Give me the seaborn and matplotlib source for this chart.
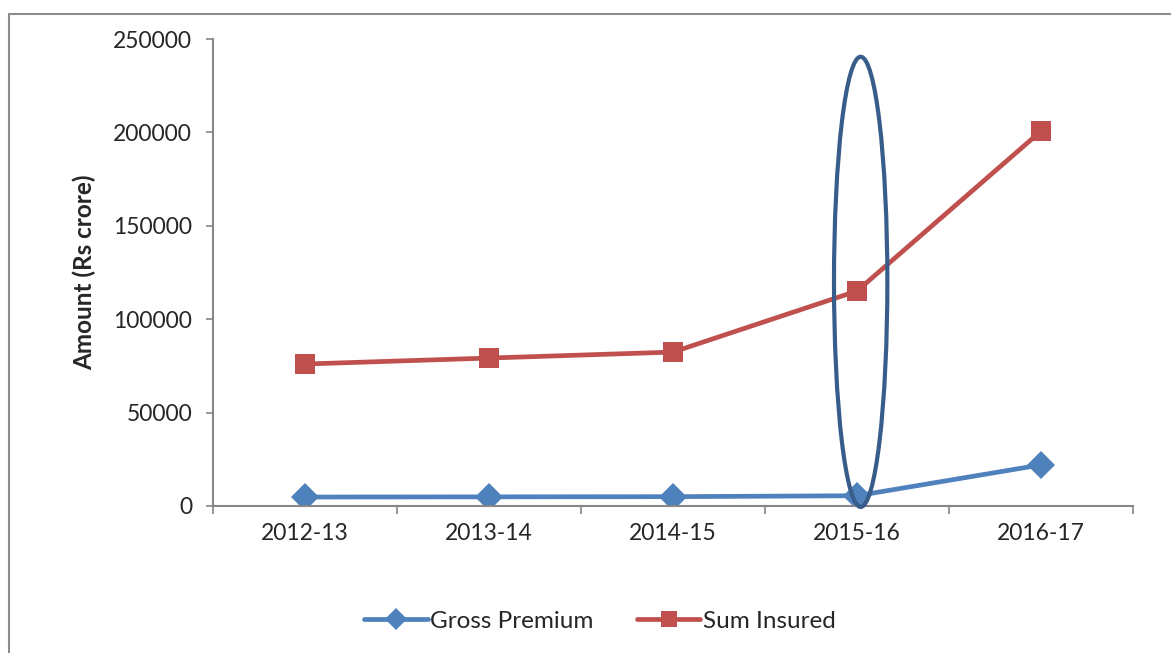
import numpy as np
import pandas as pd
import seaborn as sns
import matplotlib.pyplot as plt
from matplotlib.patches import Ellipse
from matplotlib.lines import Line2D

years = ['2012-13', '2013-14', '2014-15', '2015-16', '2016-17']
gross_premium = [4800, 4900, 5000, 5500, 22000]
sum_insured = [76000, 79200, 82400, 115100, 200700]

df = pd.DataFrame({'Year': years * 2,
                   'Amount': gross_premium + sum_insured,
                   'Series': ['Gross Premium'] * 5 + ['Sum Insured'] * 5})

sns.set_style('white')
plt.rcParams['font.family'] = ['Lato', 'DejaVu Sans']

fig = plt.figure(figsize=(11.71, 6.53), dpi=100)
ax = fig.add_axes([213 / 1171, 1 - 506 / 653, 920 / 1171, 467 / 653])

sns.lineplot(data=df, x='Year', y='Amount', hue='Series', style='Series',
             palette=['#4F81BD', '#C0504D'], markers=['D', 's'], dashes=False,
             linewidth=3.4, markersize=14, markeredgewidth=0, sort=False, ax=ax)

ax.set_xlim(-0.5, 4.5)
ax.set_ylim(0, 250000)
ax.set_yticks(np.arange(0, 250001, 50000))
ax.tick_params(axis='y', labelsize=16.5, length=5, width=1.2, color='#868686', pad=10, left=True)
ax.tick_params(axis='x', which='major', labelsize=16.5, length=0, pad=12)
ax.set_xticks(np.arange(-0.5, 4.6, 1), minor=True)
ax.tick_params(axis='x', which='minor', length=6, width=1.2, color='#868686', bottom=True)
for s in ['top', 'right']:
    ax.spines[s].set_visible(False)
for s in ['left', 'bottom']:
    ax.spines[s].set_color('#868686')
    ax.spines[s].set_linewidth(1.5)
ax.set_xlabel('')
ax.set_ylabel('Amount (Rs crore)', fontsize=17.5, fontweight='bold', labelpad=12)

# highlight ellipse around 2015-16
ell = Ellipse((3.02, 120000), 0.29, 241000, fill=False, edgecolor='#385D8A',
              linewidth=3, clip_on=False, zorder=5)
ax.add_patch(ell)

handles, labels = ax.get_legend_handles_labels()
ax.get_legend().remove()
for h in handles:
    h.set_markersize(11)
fig.legend(handles, labels, loc='center', bbox_to_anchor=(600 / 1171, 1 - 621 / 653), ncol=2,
           frameon=False, fontsize=17.5, handlelength=2.6, columnspacing=1.8,
           handletextpad=0.1)

# outer chart border
fig.add_artist(Line2D([9 / 1171, 9 / 1171], [0, 1 - 14 / 653], color='#8c8c8c', linewidth=1.5))
fig.add_artist(Line2D([9 / 1171, 1], [1 - 14 / 653, 1 - 14 / 653], color='#8c8c8c', linewidth=1.5))

fig.savefig('out.png', dpi=100)
